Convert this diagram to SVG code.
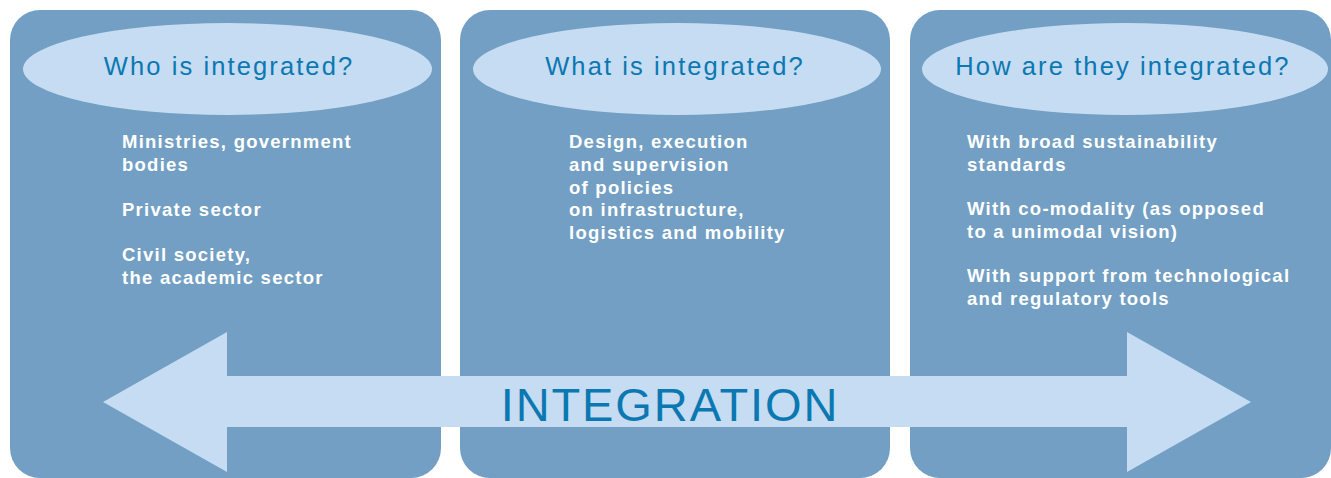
<svg xmlns="http://www.w3.org/2000/svg" width="1331" height="478" viewBox="0 0 1331 478">
<style>
.panel{fill:#729fc3}
.oval{fill:#c5dcf2}
.head{font-family:"Liberation Sans",Arial,sans-serif;font-size:25.5px;fill:#0b78b1;text-anchor:middle;letter-spacing:2.1px}
.body{font-family:"Liberation Sans",Arial,sans-serif;font-size:18.5px;font-weight:bold;fill:#ffffff;letter-spacing:1.25px}
.big{font-family:"Liberation Sans",Arial,sans-serif;font-size:47px;fill:#0b78b1;text-anchor:middle;letter-spacing:1.9px}
</style>
<rect width="1331" height="478" fill="#ffffff"/>
<g id="who">
<rect class="panel" x="10" y="10" width="431" height="468" rx="30" ry="30"/>
<ellipse class="oval" cx="227.5" cy="69" rx="204.5" ry="46"/>
<text class="head" x="229" y="75">Who is integrated?</text>
<text class="body" x="122"><tspan x="122" y="148">Ministries, government</tspan><tspan x="122" y="171">bodies</tspan><tspan x="122" y="216">Private sector</tspan><tspan x="122" y="261">Civil society,</tspan><tspan x="122" y="284">the academic sector</tspan></text>
</g>
<g id="what">
<rect class="panel" x="460" y="10" width="430" height="468" rx="30" ry="30"/>
<ellipse class="oval" cx="677" cy="69" rx="204" ry="46"/>
<text class="head" x="675" y="75">What is integrated?</text>
<text class="body" x="569"><tspan x="569" y="148">Design, execution</tspan><tspan x="569" y="171">and supervision</tspan><tspan x="569" y="193.5">of policies</tspan><tspan x="569" y="216">on infrastructure,</tspan><tspan x="569" y="238.5">logistics and mobility</tspan></text>
</g>
<g id="how">
<rect class="panel" x="910" y="10" width="421" height="468" rx="30" ry="30"/>
<ellipse class="oval" cx="1125" cy="69" rx="203" ry="46"/>
<text class="head" x="1123" y="75">How are they integrated?</text>
<text class="body" x="967"><tspan x="967" y="148">With broad sustainability</tspan><tspan x="967" y="170.5">standards</tspan><tspan x="967" y="215">With co-modality (as opposed</tspan><tspan x="967" y="237.5">to a unimodal vision)</tspan><tspan x="967" y="282">With support from technological</tspan><tspan x="967" y="305">and regulatory tools</tspan></text>
</g>
<g id="integration">
<polygon class="oval" points="103,402 227,332 227,376 1127,376 1127,332 1251,402 1127,472 1127,427 227,427 227,472"/>
<text class="big" x="670" y="421">INTEGRATION</text>
</g>
</svg>
